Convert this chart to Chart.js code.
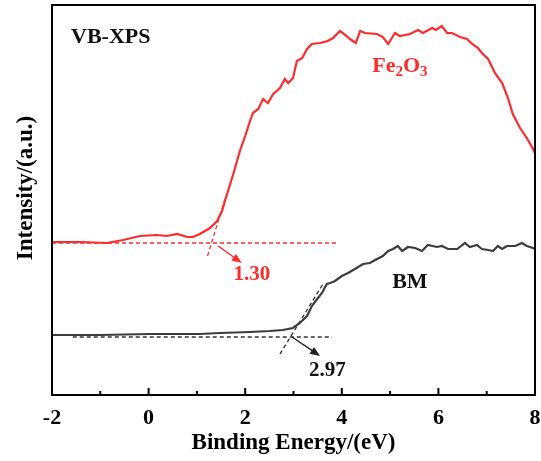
<!DOCTYPE html>
<html>
<head>
<meta charset="utf-8">
<script src="https://cdn.jsdelivr.net/npm/chart.js@4"></script>
<style>
	body { margin: 0; background: #fff; }
	#wrap { width: 541px; height: 461px; }
</style>
</head>
<body>
<div id="wrap"><canvas id="vbChart"></canvas></div>
<script>
// --- Data (x in eV, y in arbitrary intensity units) ---
const feX = [-2.00, -1.42, -0.86, -0.53, -0.18, 0.17, 0.38, 0.59, 0.80, 0.92, 1.06, 1.27, 1.42, 1.52, 1.58, 1.69, 1.79, 1.89, 2.00, 2.10, 2.16, 2.27, 2.37, 2.47, 2.58, 2.72, 2.82, 2.89, 2.99, 3.07, 3.18, 3.28, 3.38, 3.55, 3.71, 3.82, 3.96, 4.02, 4.17, 4.29, 4.38, 4.48, 4.73, 4.85, 4.96, 5.10, 5.20, 5.41, 5.58, 5.68, 5.87, 5.95, 6.07, 6.18, 6.28, 6.45, 6.59, 6.70, 6.82, 6.90, 7.03, 7.17, 7.32, 7.44, 7.54, 7.69, 7.83, 7.96, 8.00];
const feY = [153, 153, 152, 155, 159, 160, 159, 161, 158, 158, 161, 167, 174, 184, 194, 211, 227, 244, 259, 274, 282, 286, 296, 292, 301, 307, 316, 312, 317, 334, 337, 346, 351, 352, 354, 357, 364, 362, 356, 352, 364, 362, 361, 358, 351, 362, 359, 361, 365, 362, 367, 365, 369, 362, 362, 358, 356, 351, 347, 342, 336, 322, 312, 297, 281, 267, 257, 246, 242];

const bmX = [-2.00, -1.01, 0.03, 1.06, 1.48, 2.10, 2.51, 2.78, 2.99, 3.13, 3.28, 3.38, 3.49, 3.59, 3.69, 3.76, 3.86, 4.00, 4.13, 4.27, 4.44, 4.58, 4.73, 4.85, 4.96, 5.06, 5.16, 5.25, 5.37, 5.52, 5.66, 5.78, 5.97, 6.07, 6.20, 6.39, 6.55, 6.65, 6.80, 6.90, 7.03, 7.13, 7.23, 7.32, 7.42, 7.59, 7.73, 7.83, 7.96, 8.00];
const bmY = [60, 60, 61, 61, 62, 63, 64, 65, 67, 72, 79, 89, 96, 102, 111, 112, 114, 119, 122, 126, 131, 132, 136, 139, 144, 146, 149, 144, 148, 147, 144, 150, 148, 149, 146, 146, 152, 148, 150, 146, 145, 144, 149, 146, 149, 149, 152, 149, 147, 146];

// baseline and tangent construction lines
const feBaseX = [-2.0, 3.9];
const feBaseY = [152, 152];
const feTanX = [1.22, 1.6];
const feTanY = [139, 199];
const bmBaseX = [-1.57, 3.8];
const bmBaseY = [58, 58];
const bmTanX = [2.72, 3.61];
const bmTanY = [41, 111];

const xTicks = [-2, 0, 2, 4, 6, 8];
const edgeFe = 1.30;
const edgeBm = 2.97;

const RED = "#ff2b2b";
const DARK = "#3c3c3c";
const SERIF = "'Liberation Serif', 'Times New Roman', serif";

const pts = (xs, ys) => xs.map((x, i) => ({ x, y: ys[i] }));

// --- Frame, inward ticks, arrows and labels ---
const decor = {
	id: "decor",
	afterDraw(chart) {
		const { ctx, chartArea: a, scales } = chart;
		const xs = scales.x, ys = scales.y;
		const px = (v) => xs.getPixelForValue(v);
		const py = (v) => ys.getPixelForValue(v);
		ctx.save();

		// frame
		ctx.strokeStyle = "#000";
		ctx.lineWidth = 2;
		ctx.strokeRect(a.left, a.top, a.right - a.left, a.bottom - a.top);

		// bottom ticks pointing inward
		ctx.beginPath();
		for (let v = -2; v <= 8; v++) {
			const len = v % 2 === 0 ? 7 : 4;
			ctx.moveTo(px(v), a.bottom);
			ctx.lineTo(px(v), a.bottom - len);
		}
		ctx.stroke();

		// arrows from the edge crossing to the value labels
		const arrow = (x0, y0, x1, y1, color) => {
			const X0 = px(x0), Y0 = py(y0), X1 = px(x1), Y1 = py(y1);
			const ang = Math.atan2(Y1 - Y0, X1 - X0);
			ctx.strokeStyle = color;
			ctx.fillStyle = color;
			ctx.lineWidth = 1.5;
			ctx.beginPath();
			ctx.moveTo(X0, Y0);
			ctx.lineTo(X1 - 6 * Math.cos(ang), Y1 - 6 * Math.sin(ang));
			ctx.stroke();
			ctx.beginPath();
			ctx.moveTo(X1, Y1);
			ctx.lineTo(X1 - 10 * Math.cos(ang) + 4 * Math.sin(ang), Y1 - 10 * Math.sin(ang) - 4 * Math.cos(ang));
			ctx.lineTo(X1 - 10 * Math.cos(ang) - 4 * Math.sin(ang), Y1 - 10 * Math.sin(ang) + 4 * Math.cos(ang));
			ctx.closePath();
			ctx.fill();
		};
		arrow(1.44, 149, 1.93, 132, RED);
		arrow(2.97, 58, 3.55, 39, "#222");

		// text labels
		ctx.textBaseline = "middle";
		ctx.textAlign = "center";
		ctx.fillStyle = RED;
		ctx.font = "bold 21px " + SERIF;
		ctx.fillText(edgeFe.toFixed(2), px(2.14), py(120));
		ctx.fillStyle = "#111";
		ctx.fillText(edgeBm.toFixed(2), px(3.70), py(24));
		ctx.font = "bold 22px " + SERIF;
		ctx.fillText("BM", px(5.41), py(113));

		ctx.textAlign = "left";
		ctx.fillText("VB-XPS", a.left + 19, a.top + 32);

		// Fe2O3 with subscripts
		ctx.fillStyle = RED;
		let fx = px(4.63);
		const fy = py(329);
		const parts = [["Fe", 22, 0], ["2", 15, 6], ["O", 22, 0], ["3", 15, 6]];
		parts.forEach(([t, s, dy]) => {
			ctx.font = "bold " + s + "px " + SERIF;
			ctx.fillText(t, fx, fy + dy);
			fx += ctx.measureText(t).width;
		});

		// y axis title
		ctx.translate(26, 188);
		ctx.rotate(-Math.PI / 2);
		ctx.textAlign = "center";
		ctx.fillStyle = "#000";
		ctx.font = "bold 23px " + SERIF;
		ctx.fillText("Intensity/(a.u.)", 0, 0);
		ctx.restore();
	},
};

const dashed = (xs, ys, color) => ({
	data: pts(xs, ys),
	borderColor: color,
	borderWidth: 1.3,
	borderDash: [4, 3],
	pointRadius: 0,
	fill: false,
});

new Chart(document.getElementById("vbChart"), {
	type: "line",
	data: {
		datasets: [
			{ label: "Fe2O3", data: pts(feX, feY), borderColor: RED, borderWidth: 2.2, pointRadius: 0, tension: 0 },
			{ label: "BM", data: pts(bmX, bmY), borderColor: DARK, borderWidth: 2.2, pointRadius: 0, tension: 0 },
			dashed(feBaseX, feBaseY, RED),
			dashed(feTanX, feTanY, RED),
			dashed(bmBaseX, bmBaseY, "#333"),
			dashed(bmTanX, bmTanY, "#333"),
		],
	},
	options: {
		responsive: true,
		maintainAspectRatio: false,
		animation: false,
		layout: { padding: { left: 52, right: 6, top: 5, bottom: 0 } },
		plugins: { legend: { display: false }, tooltip: { enabled: false } },
		scales: {
			x: {
				type: "linear",
				min: -2,
				max: 8,
				afterBuildTicks: (s) => { s.ticks = xTicks.map((v) => ({ value: v })); },
				afterFit: (s) => {
					s.height = 66;
					s.paddingLeft = 0;
					s.paddingRight = 0;
				},
				grid: { display: false, drawTicks: false },
				border: { display: false },
				ticks: { color: "#000", padding: 10, font: { family: SERIF, size: 22, weight: "bold" } },
				title: {
					display: true,
					text: "Binding Energy/(eV)",
					color: "#000",
					padding: { top: 0, bottom: 4 },
					font: { family: SERIF, size: 23, weight: "bold" },
				},
			},
			y: { display: false, min: 0, max: 390 },
		},
	},
	plugins: [decor],
});
</script>
</body>
</html>
